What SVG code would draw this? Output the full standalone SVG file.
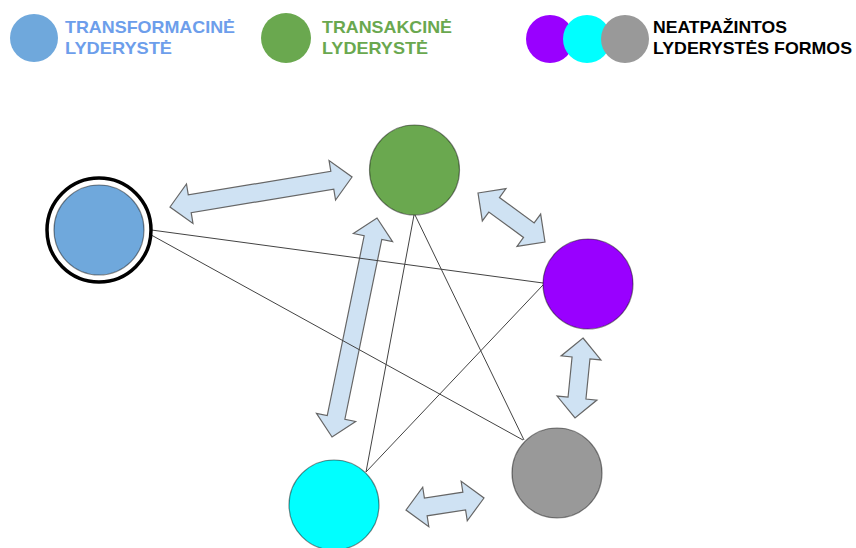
<svg xmlns="http://www.w3.org/2000/svg" width="856" height="548" viewBox="0 0 856 548">
  <style>
    .lg { font-family: "Liberation Sans", Arial, sans-serif; font-weight: bold; font-size: 17px; }
    .arrow { fill: #cfe2f3; stroke: #666666; stroke-width: 1.2; stroke-linejoin: miter; }
    .link { stroke: #434343; stroke-width: 1; fill: none; }
    .node { stroke: #000000; stroke-opacity: 0.45; stroke-width: 1.2; }
  </style>
  <rect width="856" height="548" fill="#ffffff"/>

  <g id="legend">
    <g id="legend-transformacine">
      <circle cx="34" cy="38" r="24" fill="#6fa8dc"/>
      <text class="lg" fill="#6d9eeb" x="65" y="33" textLength="170" lengthAdjust="spacingAndGlyphs">TRANSFORMACINĖ</text>
      <text class="lg" fill="#6d9eeb" x="65" y="54" textLength="107" lengthAdjust="spacingAndGlyphs">LYDERYSTĖ</text>
    </g>
    <g id="legend-transakcine">
      <circle cx="286" cy="38" r="25" fill="#6aa84f"/>
      <text class="lg" fill="#6aa84f" x="322" y="33" textLength="130" lengthAdjust="spacingAndGlyphs">TRANSAKCINĖ</text>
      <text class="lg" fill="#6aa84f" x="322" y="54" textLength="106" lengthAdjust="spacingAndGlyphs">LYDERYSTĖ</text>
    </g>
    <g id="legend-neatpazintos">
      <circle cx="550" cy="39" r="24" fill="#9900ff"/>
      <circle cx="587" cy="39" r="24" fill="#00ffff"/>
      <circle cx="625" cy="39" r="24" fill="#999999"/>
      <text class="lg" fill="#000000" x="653" y="33" textLength="134" lengthAdjust="spacingAndGlyphs">NEATPAŽINTOS</text>
      <text class="lg" fill="#000000" x="653" y="54" textLength="199" lengthAdjust="spacingAndGlyphs">LYDERYSTĖS FORMOS</text>
    </g>
  </g>

  <g id="connectors">
    <path class="arrow" transform="translate(170,207) rotate(-9.36)" d="M0,0 L20,-20 L20,-9 L164.5,-9 L164.5,-20 L184.5,0 L164.5,20 L164.5,9 L20,9 L20,20 Z"/>
    <path class="arrow" transform="translate(377,218) rotate(101.6)" d="M0,0 L20,-20 L20,-9 L203.6,-9 L203.6,-20 L223.6,0 L203.6,20 L203.6,9 L20,9 L20,20 Z"/>
    <path class="arrow" transform="translate(478,193) rotate(36.2)" d="M0,0 L20,-20 L20,-9 L63,-9 L63,-20 L83,0 L63,20 L63,9 L20,9 L20,20 Z"/>
    <path class="arrow" transform="translate(583,338) rotate(95.7)" d="M0,0 L20,-20 L20,-9 L60.4,-9 L60.4,-20 L80.4,0 L60.4,20 L60.4,9 L20,9 L20,20 Z"/>
    <path class="arrow" transform="translate(406,510) rotate(-8.75)" d="M0,0 L20,-20 L20,-9 L58.9,-9 L58.9,-20 L78.9,0 L58.9,20 L58.9,9 L20,9 L20,20 Z"/>
    <line class="link" x1="144" y1="229" x2="543" y2="283"/>
    <line class="link" x1="144" y1="231" x2="523" y2="440"/>
    <line class="link" x1="414" y1="215" x2="366" y2="472"/>
    <line class="link" x1="415" y1="215" x2="524" y2="440"/>
    <line class="link" x1="543" y1="285" x2="366" y2="472"/>
  </g>

  <g id="node-transformacine">
    <circle cx="99" cy="230" r="52" fill="#ffffff" stroke="#000000" stroke-width="3.5"/>
    <circle class="node" cx="99" cy="230" r="45" fill="#6fa8dc"/>
  </g>
  <g id="node-transakcine">
    <circle class="node" cx="414.5" cy="170" r="45" fill="#6aa84f"/>
  </g>
  <g id="node-purple">
    <circle class="node" cx="588" cy="284" r="45" fill="#9900ff"/>
  </g>
  <g id="node-gray">
    <circle class="node" cx="557" cy="473" r="45" fill="#999999"/>
  </g>
  <g id="node-cyan">
    <circle class="node" cx="334" cy="505" r="45" fill="#00ffff"/>
  </g>
</svg>
